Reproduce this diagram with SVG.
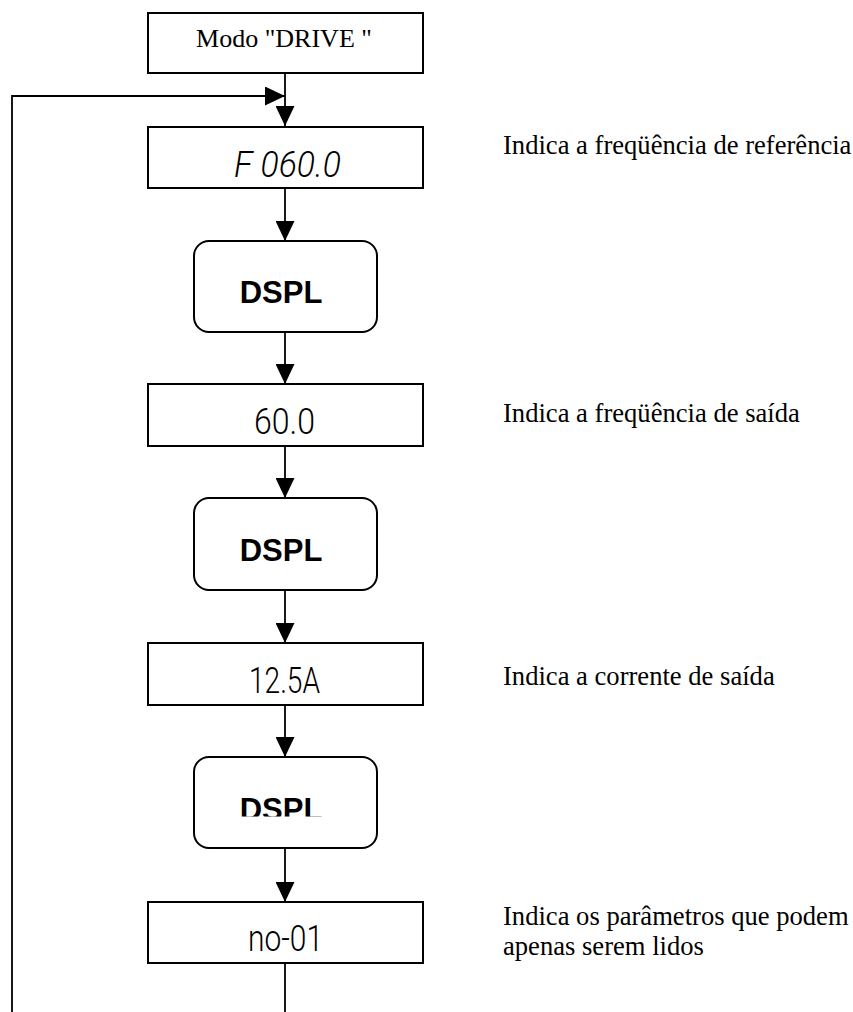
<svg xmlns="http://www.w3.org/2000/svg" width="853" height="1012" viewBox="0 0 853 1012">
<style>
.box{fill:#fff;stroke:#000;stroke-width:2}
.con{fill:none;stroke:#000;stroke-width:1.8}
.serif{font-family:"Liberation Serif","Times New Roman",serif;fill:#000}
.disp{font-family:Roboto,"Liberation Sans Narrow","Liberation Sans",sans-serif;font-weight:300;font-size:36px;fill:#000;text-anchor:middle}
.dspl{font-family:"Liberation Sans",Arial,sans-serif;font-weight:bold;font-size:31px;fill:#000;text-anchor:middle}
.lbl{font-size:26.6px}
</style>
<defs>
<marker id="ah" markerUnits="userSpaceOnUse" markerWidth="20" markerHeight="19" refX="20" refY="9.5" orient="auto">
<path d="M0,0 L20,9.5 L0,19 Z" fill="#000"/>
</marker>
<clipPath id="clip3"><rect x="150" y="750" width="270" height="66.5"/></clipPath>
</defs>
<g id="connectors">
<path class="con" d="M285,73 V126" marker-end="url(#ah)"/>
<path class="con" d="M12,1012 V96 H285" marker-end="url(#ah)"/>
<path class="con" d="M285,188 V241" marker-end="url(#ah)"/>
<path class="con" d="M285,332 V384" marker-end="url(#ah)"/>
<path class="con" d="M285,446 V498" marker-end="url(#ah)"/>
<path class="con" d="M285,590 V643" marker-end="url(#ah)"/>
<path class="con" d="M285,705 V757" marker-end="url(#ah)"/>
<path class="con" d="M285,848 V902" marker-end="url(#ah)"/>
<path class="con" d="M285,963 V1012"/>
</g>
<g id="modo">
<rect class="box" x="148" y="13" width="275" height="60"/>
<text class="serif" x="284" y="47" font-size="26" text-anchor="middle">Modo "DRIVE "</text>
</g>
<g id="f060">
<rect class="box" x="148" y="127" width="275" height="61"/>
<text class="disp" x="287.5" y="177" font-style="italic" textLength="107" lengthAdjust="spacingAndGlyphs">F 060.0</text>
</g>
<g id="dspl1">
<rect class="box" x="194" y="241" width="183" height="91" rx="15"/>
<text class="dspl" x="281" y="303">DSPL</text>
</g>
<g id="v600">
<rect class="box" x="148" y="384" width="275" height="62"/>
<text class="disp" x="284.5" y="434" textLength="61" lengthAdjust="spacingAndGlyphs">60.0</text>
</g>
<g id="dspl2">
<rect class="box" x="194" y="498" width="183" height="92" rx="15"/>
<text class="dspl" x="281" y="561">DSPL</text>
</g>
<g id="v125">
<rect class="box" x="148" y="643" width="275" height="62"/>
<text class="disp" x="284.5" y="693" textLength="71" lengthAdjust="spacingAndGlyphs">12.5A</text>
</g>
<g id="dspl3">
<rect class="box" x="194" y="757" width="183" height="91" rx="15"/>
<text class="dspl" x="281" y="819.5" clip-path="url(#clip3)">DSPL</text>
</g>
<g id="no01">
<rect class="box" x="148" y="902" width="275" height="61"/>
<text class="disp" x="285.5" y="951" textLength="75" lengthAdjust="spacingAndGlyphs">no-01</text>
</g>
<g id="labels">
<text class="serif lbl" x="503" y="154">Indica a freqüência de referência</text>
<text class="serif lbl" x="503" y="422">Indica a freqüência de saída</text>
<text class="serif lbl" x="503" y="685">Indica a corrente de saída</text>
<text class="serif lbl" x="503" y="925">Indica os parâmetros que podem</text>
<text class="serif lbl" x="503" y="955">apenas serem lidos</text>
</g>
</svg>
